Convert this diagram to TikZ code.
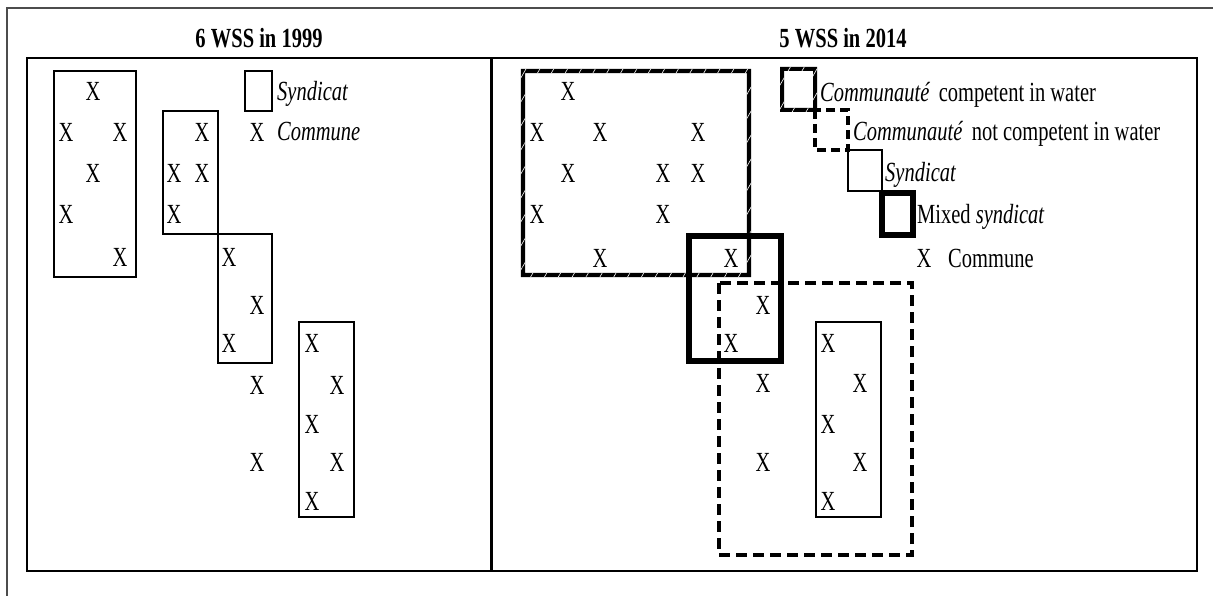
\documentclass[tikz,border=0pt]{standalone}
\usepackage{fontspec}
\setmainfont{Liberation Serif}
\usepackage{tikz}
\usetikzlibrary{patterns.meta}
\newcommand\hatchframe[5]{
  \fill[black, even odd rule] (#1-#5,#2-#5) rectangle (#3+#5,#4+#5) (#1+#5,#2+#5) rectangle (#3-#5,#4-#5);
  \fill[pattern={Lines[angle=60,distance=12pt,line width=0.6pt]}, pattern color=white, even odd rule]
    (#1-#5,#2-#5) rectangle (#3+#5,#4+#5) (#1+#5,#2+#5) rectangle (#3-#5,#4-#5);
}

\begin{document}
\begin{tikzpicture}[x=1pt, y=-1pt,
    every node/.style={font=\fontsize{20.5pt}{24pt}\selectfont, yscale=1.35, inner sep=0pt},
    heading/.style={anchor=base, font=\fontsize{20.5pt}{24pt}\selectfont\bfseries},
    legtext/.style={anchor=base west},
    commune/.style={anchor=center},
    panel/.style={draw, line width=2pt},
    syn/.style={draw, line width=1.5pt},
    mixed/.style={draw, line width=6pt},
    noncomp/.style={draw, line width=3.5pt, dash pattern=on 11pt off 6pt}]
  \useasboundingbox (0,0) rectangle (1213,596);
  \draw[black!70, line width=1.5pt] (7,596) -- (7,8) -- (1213,8);
  % panels
  \node[heading] (t99) at (259,48) {6 WSS in 1999};
  \node[heading] (t14) at (843,48) {5 WSS in 2014};
  \draw[panel] (27,58) rectangle (491,571);
  \draw[panel] (492,58) rectangle (1197,571);
  % 1999
  \draw[syn] (54,71) rectangle (136,277);
  \draw[syn] (163,111) rectangle (218,234);
  \draw[syn] (218,234) rectangle (272,363);
  \draw[syn] (299,322) rectangle (354,517);
  \foreach \px/\py [count=\i] in {93/91, 66/132, 120/132, 93/173, 66/214, 120/257,
      202/132, 174/173, 202/173, 174/214, 229/257, 257/305, 229/343, 257/385, 257/462,
      312/343, 337/385, 312/424, 337/462, 312/501}
    \node[commune] (xo\i) at (\px,\py) {X};
  \draw[syn] (245,71) rectangle (272,111);
  \node[legtext] (lsyn) at (277,101) {\textit{Syndicat}};
  \node[commune] (lx) at (257,132) {X};
  \node[legtext] (lcom) at (277,141) {\textit{Commune}};
  % 2014
  \hatchframe{523}{71}{749}{275}{2.2}
  \draw[mixed] (689,236) rectangle (781,361);
  \draw[noncomp] (719,283) rectangle (912,555);
  \draw[syn] (816,322) rectangle (881,517);
  \foreach \px/\py [count=\i] in {568/91, 537/132, 600/132, 698/132, 568/173, 663/173, 698/173,
      537/214, 663/214, 600/258, 731/258, 763/305, 731/343, 763/383, 763/462,
      828/343, 860/383, 828/424, 860/462, 828/501}
    \node[commune] (xn\i) at (\px,\py) {X};
  % legend
  \hatchframe{782}{69}{815}{110}{2}
  \draw[noncomp, dash pattern=on 9pt off 5pt] (815,110) rectangle (848,150);
  \draw[syn] (848,150) rectangle (882,191);
  \draw[mixed] (882,193) rectangle (913,235);
  \node[legtext] (lcomp) at (820,102) {\textit{Communauté}\, competent in water};
  \node[legtext] (lnot) at (853,141) {\textit{Communauté}\, not competent in water};
  \node[legtext] (lsyn2) at (885,182) {\textit{Syndicat}};
  \node[legtext] (lmix) at (917,224) {Mixed \textit{syndicat}};
  \node[commune] (lx2) at (924,258) {X};
  \node[legtext] (lcom2) at (948,267) {Commune};
\end{tikzpicture}
\end{document}
